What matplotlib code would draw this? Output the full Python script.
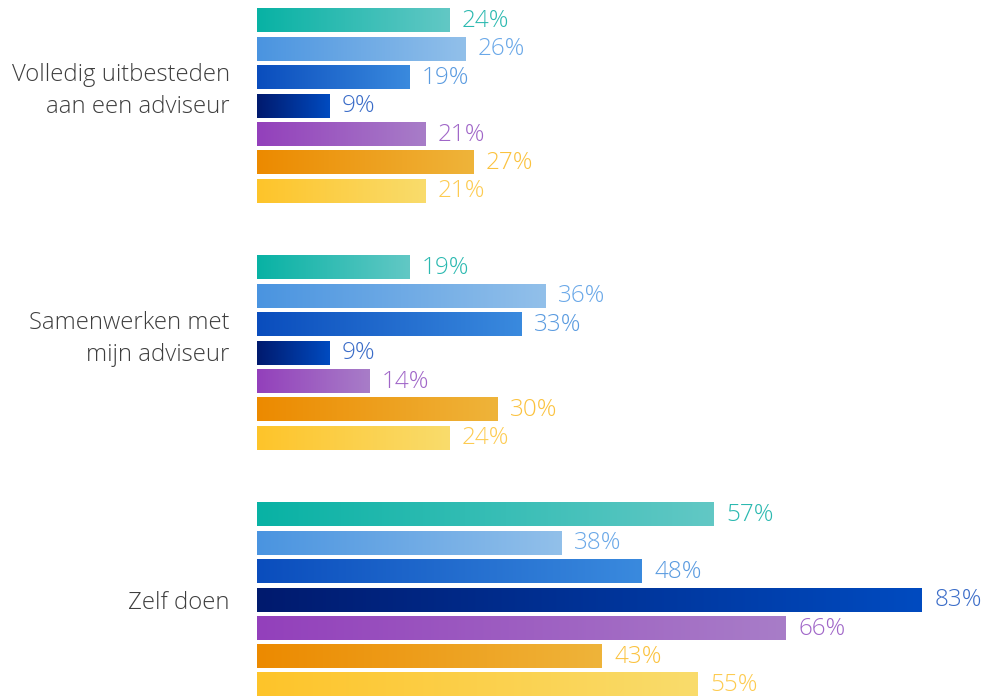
import matplotlib.pyplot as plt
import numpy as np
from matplotlib.colors import LinearSegmentedColormap

categories = ["Volledig uitbesteden\naan een adviseur", "Samenwerken met\nmijn adviseur", "Zelf doen"]
values = [
    [24, 26, 19, 9, 21, 27, 21],
    [19, 36, 33, 9, 14, 30, 24],
    [57, 38, 48, 83, 66, 43, 55],
]
grad_start = ["#08b2a4", "#4a94e0", "#0a4dbd", "#001a6e", "#9340bb", "#ec8a00", "#fec42a"]
grad_end = ["#62c8c5", "#92c0ea", "#3a8ade", "#004bc0", "#a87dc8", "#efb43a", "#f9dc6c"]
label_colors = ["#2bb9b0", "#6aa8e8", "#5a9be0", "#3a6cc8", "#a066c8", "#fbc23e", "#fdcb50"]

plt.rcParams['font.family'] = ['Open Sans', 'DejaVu Sans']

fig = plt.figure(figsize=(9.89, 6.96), dpi=100)
ax = fig.add_axes([257 / 989, 0, 721 / 989, 1])
ax.set_xlim(0, 90)
ax.set_ylim(696, 0)
ax.axis('off')

step = 28.4
bar_h = 24
grad = np.linspace(0, 1, 256).reshape(1, -1)
for g, vals in enumerate(values):
    for i, v in enumerate(vals):
        yc = 20.5 + g * 247 + i * step
        cmap = LinearSegmentedColormap.from_list("c%d" % i, [grad_start[i], grad_end[i]])
        ax.imshow(grad, cmap=cmap, aspect='auto', interpolation='bilinear',
                  extent=[0, v, yc + bar_h / 2, yc - bar_h / 2], zorder=2)
        ax.text(v + 1.6, yc + 0.5, "%d%%" % v, color=label_colors[i], fontsize=17.5,
                fontweight='light', va='center', ha='left')

label_y = [91, 339, 603]
for cat, y in zip(categories, label_y):
    ax.text(-3.4, y, cat, ha='right', va='center', fontsize=17.2, color='#3e3e3e',
            fontweight='light', linespacing=1.4)

ax.set_xlim(0, 90)
ax.set_ylim(696, 0)
fig.savefig("out.png", dpi=100)
